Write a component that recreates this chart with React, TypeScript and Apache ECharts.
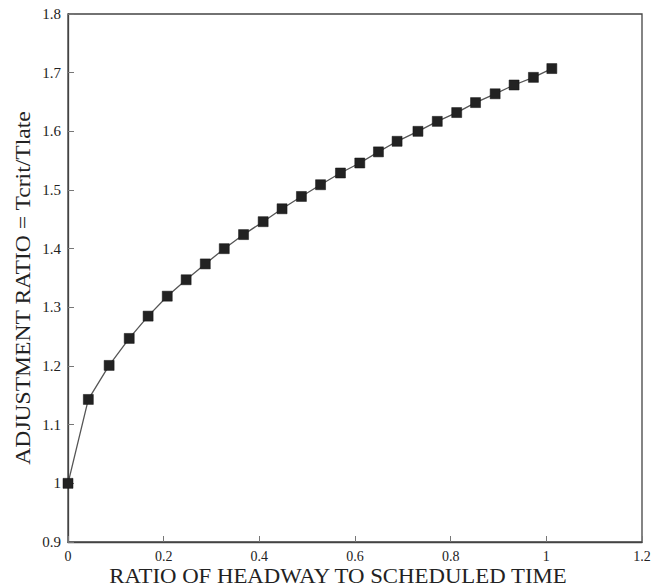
import React, { useEffect, useRef } from "react";
import * as echarts from "echarts";

const xValues = [0, 0.0425, 0.086, 0.128, 0.1675, 0.2075, 0.247, 0.287, 0.3267, 0.367, 0.408, 0.4475, 0.488, 0.528, 0.5696, 0.61, 0.649, 0.688, 0.7316, 0.772, 0.8126, 0.852, 0.893, 0.9326, 0.973, 1.0115];
const yValues = [1.0, 1.143, 1.201, 1.247, 1.285, 1.319, 1.347, 1.374, 1.4, 1.424, 1.446, 1.468, 1.489, 1.509, 1.529, 1.546, 1.565, 1.583, 1.6, 1.617, 1.632, 1.649, 1.664, 1.679, 1.692, 1.707];
const xTitle = "RATIO OF HEADWAY TO SCHEDULED TIME";
const yTitle = "ADJUSTMENT RATIO = Tcrit/Tlate";

const FONT = "'Liberation Serif', 'DejaVu Serif', serif";

export default function App() {
  const ref = useRef<HTMLDivElement>(null);
  useEffect(() => {
    if (!ref.current) return;
    const chart = echarts.init(ref.current, null, { renderer: "svg" });
    const data = xValues.map((x, i) => [x, yValues[i]]);
    chart.setOption({
      animation: false,
      backgroundColor: "#ffffff",
      grid: { left: 68, right: 15, top: 14, bottom: 45, show: true, borderColor: "#444", borderWidth: 1.3, backgroundColor: "transparent" },
      xAxis: {
        type: "value",
        min: 0,
        max: 1.2,
        interval: 0.2,
        axisLine: { show: true, lineStyle: { color: "#444", width: 1.3 } },
        axisTick: { show: true, inside: true, length: 6, lineStyle: { color: "#777" } },
        splitLine: { show: false },
        axisLabel: { color: "#222", fontFamily: FONT, fontSize: 14, margin: 7 },
      },
      yAxis: {
        type: "value",
        min: 0.9,
        max: 1.8,
        interval: 0.1,
        axisLine: { show: true, lineStyle: { color: "#444", width: 1.3 } },
        axisTick: { show: true, inside: true, length: 6, lineStyle: { color: "#777" } },
        splitLine: { show: false },
        axisLabel: { color: "#222", fontFamily: FONT, fontSize: 15, margin: 7, formatter: (v: number) => String(Math.round(v * 10) / 10) },
      },
      series: [
        {
          type: "line",
          data,
          symbol: "rect",
          symbolSize: 10,
          lineStyle: { color: "#555", width: 1.3 },
          itemStyle: { color: "#222", borderColor: "#111", borderWidth: 0.5 },
        },
      ],
      graphic: [
        {
          type: "text",
          x: 338,
          y: 576,
          scaleX: 1.14,
          style: { text: xTitle, fontFamily: FONT, fontSize: 20, fill: "#222", align: "center", verticalAlign: "middle" },
        },
        {
          type: "text",
          x: 24,
          y: 288,
          rotation: Math.PI / 2,
          scaleX: 1.18,
          style: { text: yTitle, fontFamily: FONT, fontSize: 20, fill: "#222", align: "center", verticalAlign: "middle" },
        },
      ],
    });
    return () => chart.dispose();
  }, []);
  return <div ref={ref} style={{ width: 657, height: 587, position: "absolute", left: 0, top: 0 }} />;
}
